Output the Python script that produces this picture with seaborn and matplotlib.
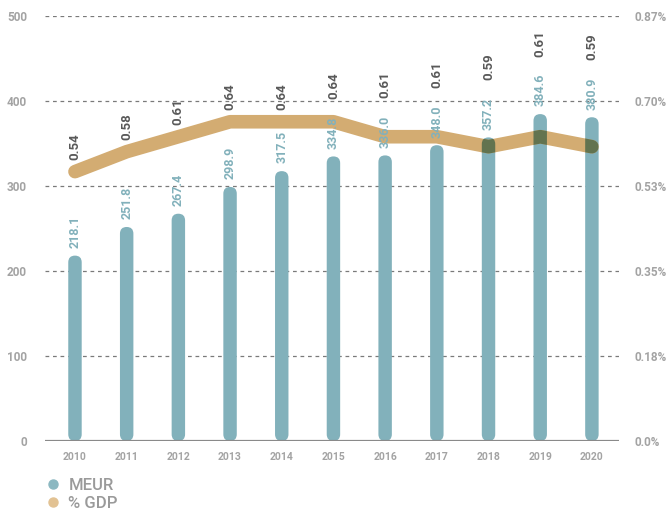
import numpy as np
import pandas as pd
import matplotlib
matplotlib.use('Agg')
import matplotlib.pyplot as plt
from matplotlib.patches import FancyBboxPatch
from matplotlib.lines import Line2D
import seaborn as sns

# 数据
years = ['2010', '2011', '2012', '2013', '2014', '2015', '2016', '2017', '2018', '2019', '2020']
meur = [218.1, 251.8, 267.4, 298.9, 317.5, 334.8, 336.0, 348.0, 357.2, 384.6, 380.9]
gdp = [0.54, 0.58, 0.61, 0.64, 0.64, 0.64, 0.61, 0.61, 0.59, 0.61, 0.59]
right_labels = ['0.0%', '0.18%', '0.35%', '0.53%', '0.70%', '0.87%']

bar_col = '#82B1BB'
line_col = '#D3AC72'
dark_col = '#62734F'
tick_col = '#A3A3A3'

sns.set_style('white')
plt.rcParams['font.family'] = ['Roboto', 'DejaVu Sans']

fig = plt.figure(figsize=(6.66, 5.16), dpi=100)
ax = fig.add_axes([45 / 666, 1 - 441 / 516, (619.3 - 45) / 666, (441 - 16) / 516])

df = pd.DataFrame({'year': years, 'meur': meur, 'gdp': gdp})
sns.barplot(data=df, x='year', y='meur', color=bar_col, width=0.26, saturation=1, ax=ax)
ax.set_xlim(-0.58, 10.53)
ax.set_ylim(0, 500)

# 圆角柱子
ppx = (ax.transData.transform((1, 0)) - ax.transData.transform((0, 0)))[0]
ppy = (ax.transData.transform((0, 1)) - ax.transData.transform((0, 0)))[1]
aspect = ppx / ppy
bars = []
for p in list(ax.patches):
    x0, y0, w, h = p.get_x(), p.get_y(), p.get_width(), p.get_height()
    p.remove()
    fb = FancyBboxPatch((x0, y0), w, h, boxstyle='round,pad=0,rounding_size=%f' % (w / 2),
                        mutation_aspect=aspect, fc=bar_col, ec='none', zorder=2)
    ax.add_patch(fb)
    bars.append(fb)

# 网格
for v in [100, 200, 300, 400, 500]:
    ax.axhline(v, color='#7A7A7A', lw=0.9, ls=(0, (3, 3)), zorder=0)
ax.axhline(0, color='#8A8A8A', lw=1.6, zorder=3)
for s in ax.spines.values():
    s.set_visible(False)
ax.set_yticks([0, 100, 200, 300, 400, 500])
ax.tick_params(axis='y', length=0, pad=13, labelsize=8.5, labelcolor=tick_col)
ax.tick_params(axis='x', length=0, pad=8, labelsize=7.5, labelcolor=tick_col)
for t in ax.get_yticklabels() + ax.get_xticklabels():
    t.set_fontweight('bold')
ax.set_xlabel('')
ax.set_ylabel('')

# 右轴 % GDP
ax2 = ax.twinx()
gmax = 0.852
ax2.set_ylim(0, gmax)
xs = np.arange(len(years))
sns.lineplot(x=xs, y=gdp, color=line_col, lw=9.8, solid_capstyle='round', ax=ax2, zorder=4)
for fb in bars:
    ln, = ax2.plot(xs, gdp, color=dark_col, lw=9.8, solid_capstyle='round', zorder=5)
    ln.set_clip_path(fb)
ax2.set_xlim(-0.58, 10.53)
ax2.set_yticks(np.linspace(0, gmax, 6))
ax2.set_yticklabels(right_labels)
ax2.tick_params(axis='y', length=0, pad=11, labelsize=8.5, labelcolor=tick_col)
for t in ax2.get_yticklabels():
    t.set_fontweight('bold')
for s in ax2.spines.values():
    s.set_visible(False)
ax2.grid(False)

# 数值标签（画在折线上层）
for i, (m, g) in enumerate(zip(meur, gdp)):
    ax2.text(i, m + 9, '%.1f' % m, transform=ax.transData, rotation=90, ha='center',
             va='bottom', color=bar_col, fontsize=9, fontweight='bold', zorder=6)
    gy = max(m + 9 + 58, g / gmax * 500 + 14)
    ax2.text(i, gy, '%.2f' % g, transform=ax.transData, rotation=90, ha='center',
             va='bottom', color='#595959', fontsize=9.5, fontweight='bold', zorder=6)

# 图例
handles = [
    Line2D([0], [0], marker='o', ls='none', color='#8CB8C1', markersize=6.5, label='MEUR'),
    Line2D([0], [0], marker='o', ls='none', color='#E2C293', markersize=6.5, label='% GDP'),
]
fig.legend(handles=handles, loc='upper left', bbox_to_anchor=(36 / 666, 1 - 471 / 516),
           frameon=False, labelcolor='#9A9A9A', prop={'size': 12, 'weight': 'medium'},
           handletextpad=0.35, labelspacing=0.2, handlelength=1.2, borderaxespad=0)

fig.savefig('out.png', dpi=100)
